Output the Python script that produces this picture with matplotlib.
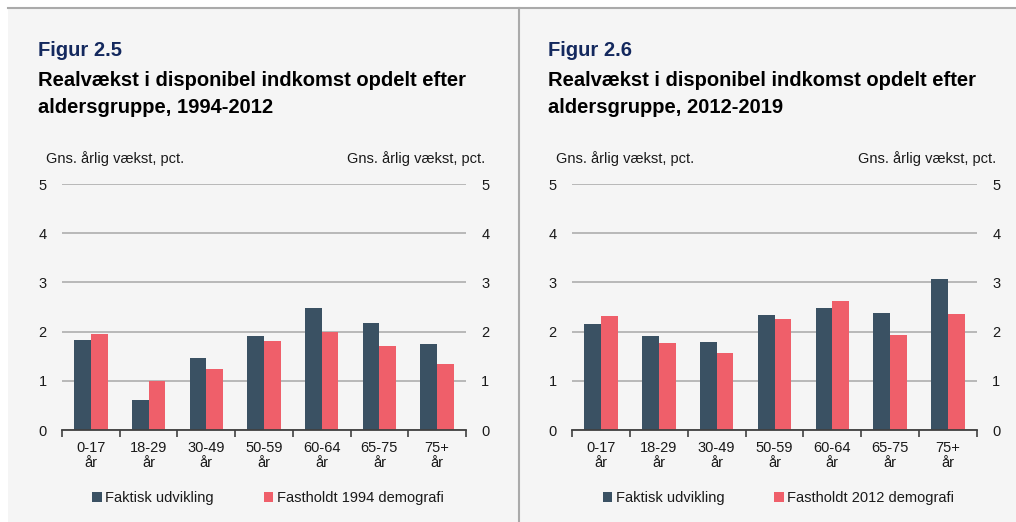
import numpy as np
import matplotlib.pyplot as plt
from matplotlib.patches import Rectangle
from matplotlib.lines import Line2D

plt.rcParams['font.family'] = ['Liberation Sans', 'DejaVu Sans']

groups = ["0-17\når", "18-29\når", "30-49\når", "50-59\når", "60-64\når", "65-75\når", "75+\når"]

# Figur 2.5, 1994-2012
faktisk_1 = [1.82, 0.60, 1.46, 1.91, 2.48, 2.17, 1.75]
fast_1 = [1.95, 1.00, 1.25, 1.81, 2.00, 1.70, 1.35]

# Figur 2.6, 2012-2019
faktisk_2 = [2.16, 1.92, 1.78, 2.33, 2.48, 2.38, 3.07]
fast_2 = [2.31, 1.77, 1.57, 2.25, 2.63, 1.93, 2.36]

DARK = "#3a5163"
RED = "#ef5f6a"
BG = "#f5f5f5"
NAVY = "#14295e"

W, H = 1016, 522
fig = plt.figure(figsize=(W / 100, H / 100), dpi=100, facecolor="white")

# background panel + frame lines
fig.patches.append(Rectangle((8 / W, 0), 1 - 8 / W, 1 - 8 / H, transform=fig.transFigure,
                             facecolor=BG, edgecolor="none", zorder=-10))
fig.lines.append(Line2D([8 / W, 1], [1 - 8 / H, 1 - 8 / H], transform=fig.transFigure,
                        color="#aaaaaa", lw=1.5))
fig.lines.append(Line2D([519 / W, 519 / W], [0, 1 - 8 / H], transform=fig.transFigure,
                        color="#aaaaaa", lw=1.5))


def panel(x0, x1, fig_no, years, faktisk, fast, base_year):
    left = x0 / W
    width = (x1 - x0) / W
    bottom = 1 - 430 / H
    height = (430 - 184) / H
    ax = fig.add_axes([left, bottom, width, height])
    ax.set_facecolor(BG)
    x = np.arange(len(groups))
    bw = 0.29
    ax.bar(x - bw / 2, faktisk, bw, color=DARK, zorder=3, label="Faktisk udvikling")
    ax.bar(x + bw / 2, fast, bw, color=RED, zorder=3, label=f"Fastholdt {base_year} demografi")
    ax.set_xlim(-0.5, len(groups) - 0.5)
    ax.set_ylim(0, 5)
    ax.set_yticks(range(6))
    ax.yaxis.grid(True, color="#a8a8a8", lw=1.1, zorder=0)
    for s in ["top", "left", "right"]:
        ax.spines[s].set_visible(False)
    ax.spines["bottom"].set_color("#404040")
    ax.spines["bottom"].set_linewidth(1.3)
    ax.spines["bottom"].set_zorder(4)
    ax.tick_params(axis="y", length=0, labelsize=10.5, labelcolor="#1a1a1a",
                   labelright=True, pad=11)
    ax.set_xticks(x)
    ax.set_xticklabels(groups, fontsize=10.5, color="#1a1a1a", linespacing=1.1)
    ax.tick_params(axis="x", which="major", length=0, pad=8)
    ax.set_xticks(np.arange(-0.5, len(groups)), minor=True)
    ax.tick_params(axis="x", which="minor", length=5, width=1.2, color="#404040", direction="out")

    tx = (x0 - 24) / W
    fig.text(tx, 1 - 50 / H, f"Figur {fig_no}", fontsize=14.5, fontweight="bold",
             color=NAVY, va="center")
    fig.text(tx, 1 - 94 / H, "Realvækst i disponibel indkomst opdelt efter\n"
             f"aldersgruppe, {years}", fontsize=14.5, fontweight="bold", color="black",
             va="center", linespacing=1.5)
    fig.text((x0 - 16) / W, 1 - 159 / H, "Gns. årlig vækst, pct.", fontsize=10.5,
             color="#1a1a1a", va="center")
    fig.text((x1 + 19) / W, 1 - 159 / H, "Gns. årlig vækst, pct.", fontsize=10.5,
             color="#1a1a1a", va="center", ha="right")

    leg = ax.legend(loc="center", bbox_to_anchor=(0.51, (430 - 498) / (430 - 184)),
                    ncol=2, frameon=False, fontsize=10.5, handlelength=0.65,
                    handleheight=0.65, handletextpad=0.25, columnspacing=3.4)
    for t in leg.get_texts():
        t.set_color("#1a1a1a")
    return ax


panel(62, 466, "2.5", "1994-2012", faktisk_1, fast_1, 1994)
panel(572, 977, "2.6", "2012-2019", faktisk_2, fast_2, 2012)

fig.savefig("out.png", dpi=100, facecolor=fig.get_facecolor())
